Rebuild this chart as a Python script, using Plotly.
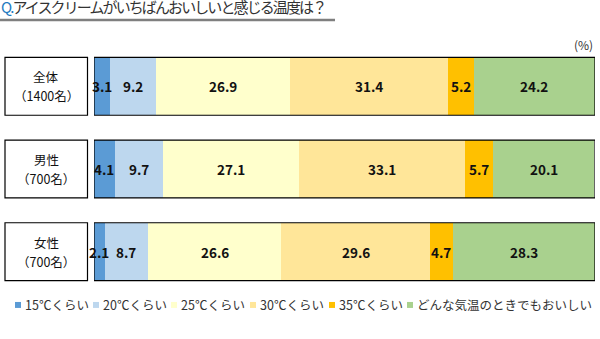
import plotly.graph_objects as go

# Survey: at what temperature does ice cream taste best?
group_names = ["全体", "男性", "女性"]
group_sizes = ["（1400名）", "（700名）", "（700名）"]
answers = ["15℃くらい", "20℃くらい", "25℃くらい", "30℃くらい", "35℃くらい", "どんな気温のときでもおいしい"]
colors = ["#5B9BD5", "#BDD7EE", "#FFFFCC", "#FFE699", "#FFC000", "#A9D18E"]

share_all = [3.1, 9.2, 26.9, 31.4, 5.2, 24.2]
share_men = [4.1, 9.7, 27.1, 33.1, 5.7, 20.1]
share_women = [2.1, 8.7, 26.6, 29.6, 4.7, 28.3]
shares = [share_all, share_men, share_women]

JP = "Noto Sans CJK JP"
W, H = 600, 339
ML, MR, MT, MB = 94, 5, 44.5, 45.5
PW, PH = W - ML - MR, H - MT - MB
BAR_W = 0.70
n = len(group_names)
ypos = list(range(n))


def px_x(px):
    return (px - ML) / PW


def px_y(py):
    return (H - MB - py) / PH


fig = go.Figure()
for k, name in enumerate(answers):
    vals = [s[k] for s in shares]
    fig.add_trace(go.Bar(
        x=vals, y=ypos, orientation="h", name=name,
        marker=dict(color=colors[k], line=dict(width=0)),
        width=BAR_W, showlegend=False, hoverinfo="skip",
    ))

shapes = []
annotations = []

# Value labels centred on each segment, drawn above all bars so narrow
# segments can spill over their neighbours
for i, row in enumerate(shares):
    start = 0.0
    for v in row:
        annotations.append(dict(xref="x", yref="y", x=start + v / 2, y=i,
                                text=f"{v:.1f}", showarrow=False,
                                xanchor="center", yanchor="middle",
                                font=dict(family=JP, size=13.5, color="#111111",
                                          weight="bold")))
        start += v

# Black outline around each stacked bar, and the group label boxes on the left
for i in range(n):
    shapes.append(dict(type="rect", xref="x", yref="y", x0=0, x1=100,
                       y0=i - BAR_W / 2, y1=i + BAR_W / 2,
                       line=dict(color="#000000", width=1.2), layer="above"))
    yc = 1 - (i + 0.5) / n
    hh = BAR_W / 2 / n
    shapes.append(dict(type="rect", xref="paper", yref="paper",
                       x0=px_x(5), x1=px_x(87.5), y0=yc - hh, y1=yc + hh,
                       line=dict(color="#000000", width=1.2), fillcolor="white"))
    for dy, txt in ((-9.5, group_names[i]), (9.5, group_sizes[i])):
        annotations.append(dict(xref="paper", yref="paper",
                                x=px_x(46), y=yc - dy / PH, text=txt, showarrow=False,
                                xanchor="center", yanchor="middle",
                                font=dict(family=JP, size=12.5, color="#111111")))

# Title with underline
annotations.append(dict(xref="paper", yref="paper", x=px_x(-1), y=px_y(-7),
                        xanchor="left", yanchor="top", showarrow=False,
                        text="<span style='letter-spacing:-1.9px'>"
                             "<span style='color:#1F7BC1'>Q.</span>"
                             "アイスクリームがいちばんおいしいと感じる温度は？</span>",
                        font=dict(family=JP, size=15, color="#333333")))
shapes.append(dict(type="line", xref="paper", yref="paper",
                   x0=px_x(0), x1=px_x(335), y0=px_y(19.5), y1=px_y(19.5),
                   line=dict(color="#7F7F7F", width=2.5)))

# Unit label
annotations.append(dict(xref="paper", yref="paper", x=px_x(595), y=px_y(44),
                        xanchor="right", yanchor="middle", showarrow=False, text="(%)",
                        font=dict(family=JP, size=12, color="#333333")))

# Legend row
legend_x = [15, 93, 171, 250, 329, 407]
ly = 305.5
for k, name in enumerate(answers):
    x0 = legend_x[k]
    shapes.append(dict(type="rect", xref="paper", yref="paper",
                       x0=px_x(x0), x1=px_x(x0 + 6),
                       y0=px_y(ly + 3), y1=px_y(ly - 3),
                       line=dict(width=0), fillcolor=colors[k]))
    annotations.append(dict(xref="paper", yref="paper", x=px_x(x0 + 7.5), y=px_y(ly),
                            xanchor="left", yanchor="middle", showarrow=False,
                            text=name, font=dict(family=JP, size=12.5, color="#333333")))

fig.update_layout(
    width=W, height=H,
    margin=dict(l=ML, r=MR, t=MT, b=MB),
    barmode="stack", bargap=0,
    plot_bgcolor="white", paper_bgcolor="white",
    xaxis=dict(range=[0, 100], visible=False, fixedrange=True),
    yaxis=dict(range=[n - 0.5, -0.5], visible=False, fixedrange=True),
    shapes=shapes, annotations=annotations,
    showlegend=False,
)

fig.write_html("out.html", config={"displayModeBar": False})
